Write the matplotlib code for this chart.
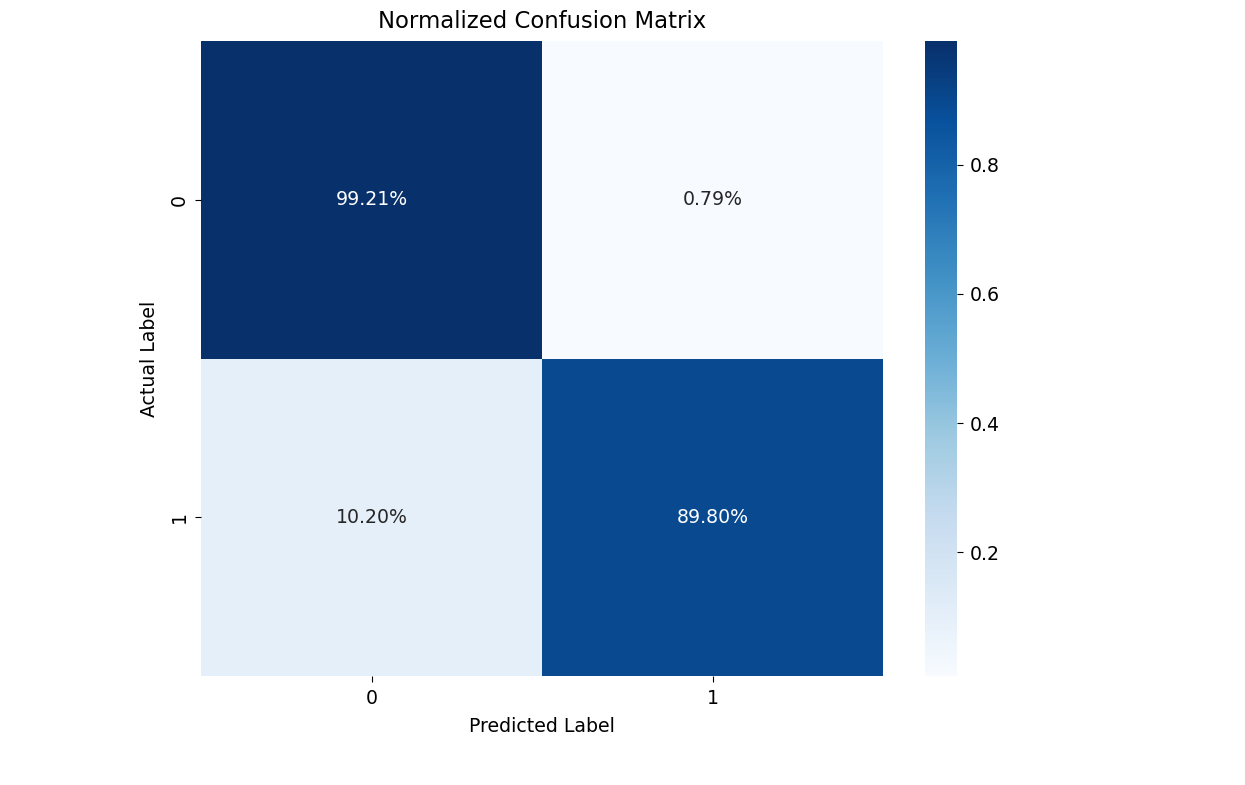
import matplotlib
matplotlib.use("Agg")
import matplotlib.pyplot as plt
import seaborn as sns
import numpy as np

row_labels = ["0", "1"]
col_labels = ["0", "1"]
cm_norm = np.array([[0.9921, 0.0079],
                    [0.1020, 0.8980]])
cbar_ticks = [0.2, 0.4, 0.6, 0.8]

fig = plt.figure(figsize=(12.45, 7.85), dpi=100)
ax = fig.add_axes([201/1245, 1-676/785, (883-201)/1245, (676-41)/785])
cax = fig.add_axes([925/1245, 1-676/785, (957-925)/1245, (676-41)/785])

fs = 13.6
sns.heatmap(cm_norm, annot=True, fmt=".2%", cmap="Blues", ax=ax, cbar_ax=cax,
            xticklabels=col_labels, yticklabels=row_labels,
            annot_kws={"fontsize": fs})
ax.set_title("Normalized Confusion Matrix", fontsize=16.4, pad=9.5)
ax.set_xlabel("Predicted Label", fontsize=fs, labelpad=6.5)
ax.set_ylabel("Actual Label", fontsize=fs, labelpad=7.5)
ax.tick_params(labelsize=fs, length=4.5, pad=4.5)
cax.tick_params(labelsize=fs, length=4.5, pad=4.5)
cax.set_yticks(cbar_ticks)
cax.set_yticklabels([f"{t:.1f}" for t in cbar_ticks])

fig.savefig("out.png", dpi=100)
